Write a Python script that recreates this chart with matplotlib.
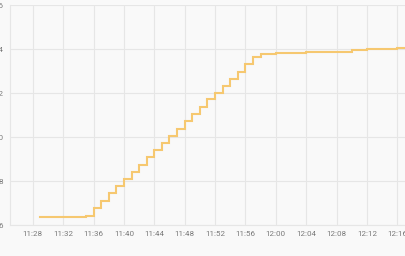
import matplotlib
matplotlib.use("Agg")
import matplotlib.pyplot as plt
import matplotlib.dates as mdates
import pandas as pd

# ---- data ----
times = ["11:29", "11:35", "11:36", "11:37", "11:38", "11:39", "11:40", "11:41",
         "11:42", "11:43", "11:44", "11:45", "11:46", "11:47", "11:48", "11:49",
         "11:50", "11:51", "11:52", "11:53", "11:54", "11:55", "11:56", "11:57",
         "11:58", "12:00", "12:02", "12:04", "12:06", "12:08", "12:10", "12:12",
         "12:14", "12:16", "12:18"]
values = [6.35, 6.41, 6.76, 7.10, 7.44, 7.76, 8.09, 8.40,
          8.73, 9.08, 9.40, 9.71, 10.05, 10.38, 10.71, 11.03,
          11.38, 11.71, 12.01, 12.32, 12.62, 12.97, 13.32, 13.62,
          13.77, 13.80, 13.82, 13.85, 13.86, 13.88, 13.97, 14.00,
          14.01, 14.03, 14.03]
x_ticks = ["11:28", "11:32", "11:36", "11:40", "11:44", "11:48", "11:52",
           "11:56", "12:00", "12:04", "12:08", "12:12", "12:16"]
y_ticks = [6, 8, 10, 12, 14, 16]
y_labels = ["6", "8", "10", "12", "14", "16"]

day = "2020-01-01 "
t = pd.to_datetime([day + s for s in times])
xt = pd.to_datetime([day + s for s in x_ticks])

plt.rcParams['font.family'] = ['Roboto', 'DejaVu Sans']

fig = plt.figure(figsize=(4.06, 2.56), dpi=100, facecolor="#f9f9f9")
ax = fig.add_axes([10/406, 31/256, 396/406, 220/256])
ax.set_facecolor("#f9f9f9")

ax.step(t, values, where="post", color="#f6c870", lw=1.5, solid_joinstyle="miter")

ax.set_xlim(pd.Timestamp(day + "11:25"), pd.Timestamp(day + "11:28") + pd.Timedelta(minutes=49.14))
ax.set_ylim(6, 16)
ax.set_xticks(xt)
ax.xaxis.set_major_formatter(mdates.DateFormatter("%H:%M"))
ax.set_yticks(y_ticks)
ax.set_yticklabels(y_labels)

ax.grid(True, color="#e6e6e6", lw=0.8)
ax.set_axisbelow(True)
for s in ["top", "right"]:
    ax.spines[s].set_visible(False)
for s in ["left", "bottom"]:
    ax.spines[s].set_color("#e6e6e6")
    ax.spines[s].set_linewidth(0.8)
ax.tick_params(axis="both", length=0, labelsize=5.8, colors="#7a7a7a")
ax.tick_params(axis="x", pad=4.5)
ax.tick_params(axis="y", pad=5)

fig.savefig("out.png", dpi=100, facecolor=fig.get_facecolor())
